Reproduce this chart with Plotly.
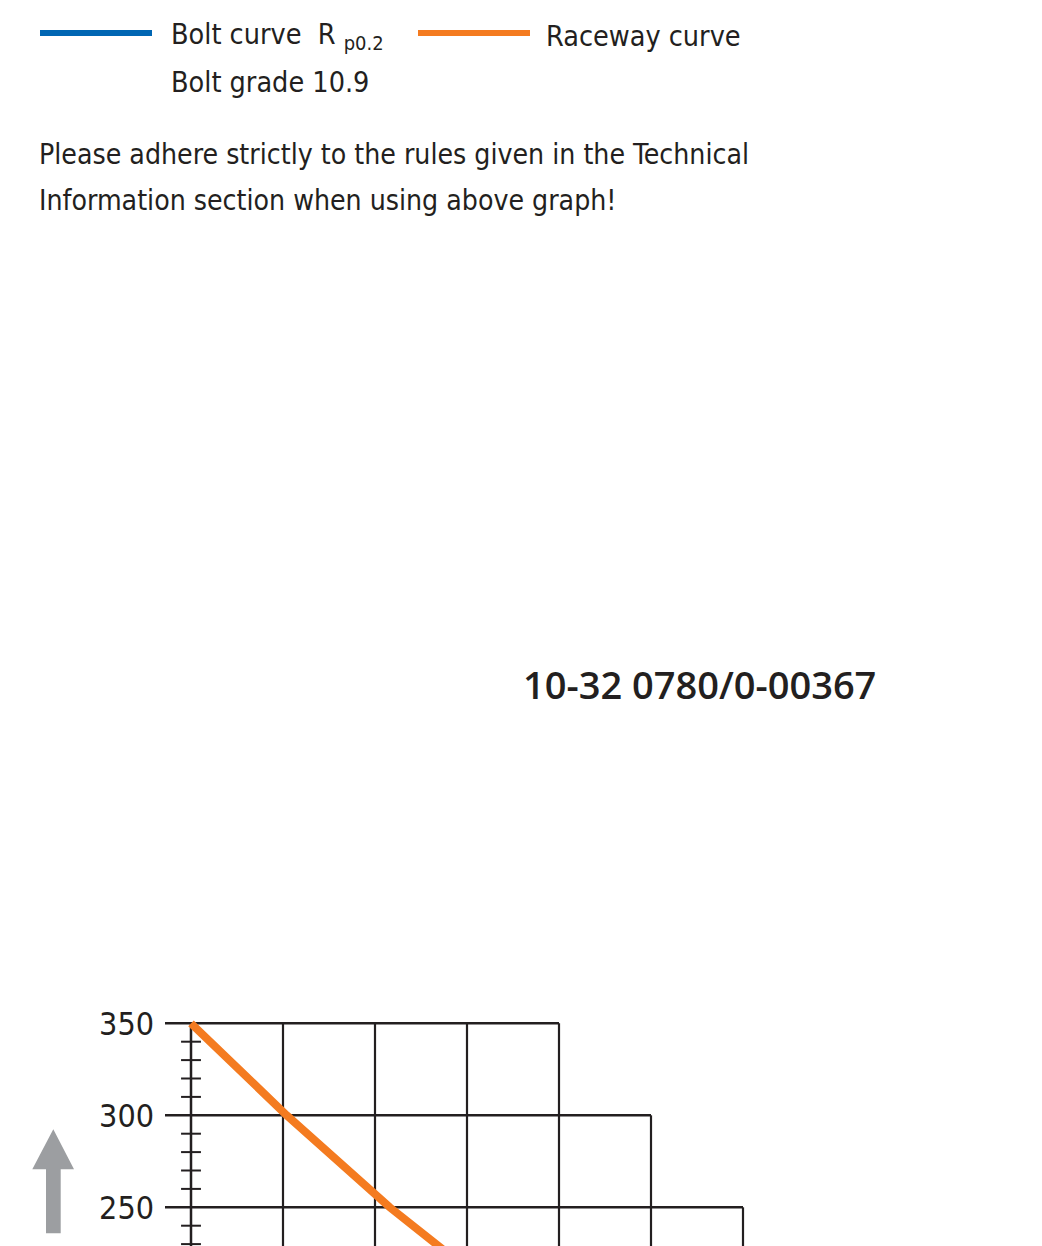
import plotly.graph_objects as go

# figure sits 8px in from the page corner (default body margin)
OFF = 8
W, H = 1042 - OFF, 1246 - OFF

# ---- data ----
y_major = [350, 300, 250]            # labelled horizontal grid rows
row_end_x = [200, 250, 300]          # staircase: where each row ends
x_verticals = [50, 100, 150, 200, 250, 300]
vertical_top = [350, 350, 350, 350, 300, 250]
y_minor = [340, 330, 320, 310, 290, 280, 270, 260, 240, 230]
y_bottom = 200                        # verticals run down past the visible area

raceway_x = [0, 52, 108, 137]
raceway_y = [350, 300, 250, 227]

tick_labels = ["350", "300", "250"]

# ---- style ----
INK = "#231f20"
ORANGE = "#f47b20"
BLUE = "#0066b3"
GREY = "#9c9ea1"
X_RANGE = [-14.13, 354.35]
Y_RANGE = [228.97, 362.66]
AXIS_LEFT = X_RANGE[0]
MINOR_HALF = 5.4
TXT = "DejaVu Sans Condensed, Liberation Sans, sans-serif"


def px(x):
    return (x - OFF) / W


def py(y):
    return 1 - (y - OFF) / H


fig = go.Figure()

hx, hy = [], []
for yv, xe in zip(y_major, row_end_x):
    hx += [AXIS_LEFT, xe, None]
    hy += [yv, yv, None]
fig.add_trace(go.Scatter(x=hx, y=hy, mode="lines", line=dict(color=INK, width=2.4),
                         hoverinfo="skip", showlegend=False))

vx, vy = [], []
for xv, yt in zip(x_verticals, vertical_top):
    vx += [xv, xv, None]
    vy += [yt, y_bottom, None]
fig.add_trace(go.Scatter(x=vx, y=vy, mode="lines", line=dict(color=INK, width=2.2),
                         hoverinfo="skip", showlegend=False))

fig.add_trace(go.Scatter(x=[0, 0], y=[y_major[0], y_bottom], mode="lines",
                         line=dict(color=INK, width=2.5), hoverinfo="skip", showlegend=False))

mx, my = [], []
for yv in y_minor:
    mx += [-MINOR_HALF, MINOR_HALF, None]
    my += [yv, yv, None]
fig.add_trace(go.Scatter(x=mx, y=my, mode="lines", line=dict(color=INK, width=2),
                         hoverinfo="skip", showlegend=False))

fig.add_trace(go.Scatter(x=raceway_x, y=raceway_y, mode="lines", name="Raceway curve",
                         line=dict(color=ORANGE, width=8), showlegend=False))

shapes = [
    dict(type="line", xref="paper", yref="paper", x0=px(40), x1=px(152), y0=py(33), y1=py(33),
         line=dict(color=BLUE, width=6)),
    dict(type="line", xref="paper", yref="paper", x0=px(418), x1=px(530), y0=py(33), y1=py(33),
         line=dict(color=ORANGE, width=6)),
    dict(type="path", xref="paper", yref="paper", fillcolor=GREY, line=dict(width=0),
         path=(f"M {px(53.3)} {py(1129.3)} L {px(74)} {py(1169.3)} L {px(60.7)} {py(1169.3)} "
               f"L {px(60.7)} {py(1233.3)} L {px(46)} {py(1233.3)} L {px(46)} {py(1169.3)} "
               f"L {px(32.3)} {py(1169.3)} Z")),
]


def ann(text, x, y, size, family=TXT, xanchor="left", weight=None):
    f = dict(family=family, size=size, color=INK)
    if weight:
        f["weight"] = weight
    return dict(text=text, x=px(x), y=py(y), xref="paper", yref="paper", xanchor=xanchor,
                yanchor="middle", showarrow=False, font=f, align="left")


annotations = [
    ann("Bolt curve  R <sub>p0.2</sub>", 169, 36, 28.5),
    ann("Bolt grade 10.9", 169, 82, 28.5),
    ann("Raceway curve", 544, 36, 28.5),
    ann("Please adhere strictly to the rules given in the Technical", 37, 154, 28.2),
    ann("Information section when using above graph!", 37, 201, 28.2),
    ann("10-32 0780/0-00367", 699.5, 684, 38, family="Open Sans", xanchor="center", weight=600),
]

fig.update_layout(
    width=W, height=H,
    margin=dict(l=0, r=0, t=0, b=0),
    paper_bgcolor="white", plot_bgcolor="white",
    shapes=shapes, annotations=annotations,
    xaxis=dict(domain=[(165 - OFF) / W, (843 - OFF) / W], range=X_RANGE, showgrid=False,
               zeroline=False, showline=False, showticklabels=False, ticks=""),
    yaxis=dict(domain=[0, 246 / H], range=Y_RANGE, showgrid=False, zeroline=False,
               showline=False, tickmode="array", tickvals=y_major, ticktext=tick_labels,
               ticks="", ticklabelstandoff=10,
               tickfont=dict(family=TXT, size=32, color=INK)),
    showlegend=False,
    hovermode=False,
)

fig.write_html("out.html", config={"displayModeBar": False})
